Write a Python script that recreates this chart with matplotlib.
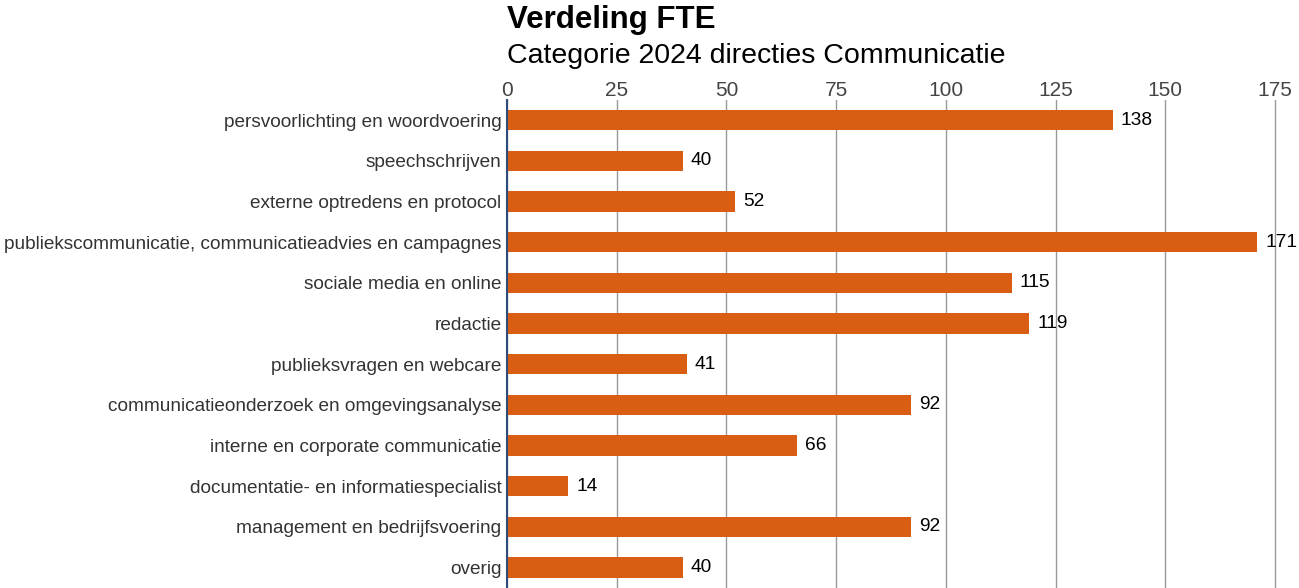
import matplotlib.pyplot as plt

categories = [
    "persvoorlichting en woordvoering",
    "speechschrijven",
    "externe optredens en protocol",
    "publiekscommunicatie, communicatieadvies en campagnes",
    "sociale media en online",
    "redactie",
    "publieksvragen en webcare",
    "communicatieonderzoek en omgevingsanalyse",
    "interne en corporate communicatie",
    "documentatie- en informatiespecialist",
    "management en bedrijfsvoering",
    "overig",
]
fte = [138, 40, 52, 171, 115, 119, 41, 92, 66, 14, 92, 40]
xticks = [0, 25, 50, 75, 100, 125, 150, 175]

plt.rcParams['font.family'] = ['Liberation Sans', 'DejaVu Sans']

fig = plt.figure(figsize=(12.99, 5.88), dpi=100)
# a little room past 175 so the last gridline is not clipped
ax = fig.add_axes([0.3903, 0.0, 0.5946, 0.830])

pos = list(range(len(categories)))
ax.barh(pos, fte, height=0.5, color="#DA5D14", zorder=3)
for y, v in zip(pos, fte):
    ax.text(v + 1.8, y, str(v), va="center", ha="left", fontsize=13.8, color="black")

ax.set_ylim(len(categories) - 0.5, -0.5)
ax.set_xlim(0, 176)
ax.set_yticks(pos)
ax.set_yticklabels(categories, fontsize=13.7, color="#333333")
ax.set_xticks(xticks)
ax.xaxis.tick_top()
ax.tick_params(axis="x", length=0, labelsize=15, colors="#444444", pad=0)
ax.tick_params(axis="y", length=0, pad=4)
ax.grid(axis="x", color="#999999", linewidth=1, zorder=0)
for s in ["top", "right", "bottom"]:
    ax.spines[s].set_visible(False)
ax.spines["left"].set_color("#2E4D7B")
ax.spines["left"].set_linewidth(1.5)
ax.spines["left"].set_zorder(4)

fig.text(0.3903, 0.952, "Verdeling FTE", fontsize=22.5, fontweight="bold", va="baseline", ha="left")
fig.text(0.3903, 0.893, "Categorie 2024 directies Communicatie", fontsize=20.5, va="baseline", ha="left")

fig.savefig("out.png", dpi=100)
